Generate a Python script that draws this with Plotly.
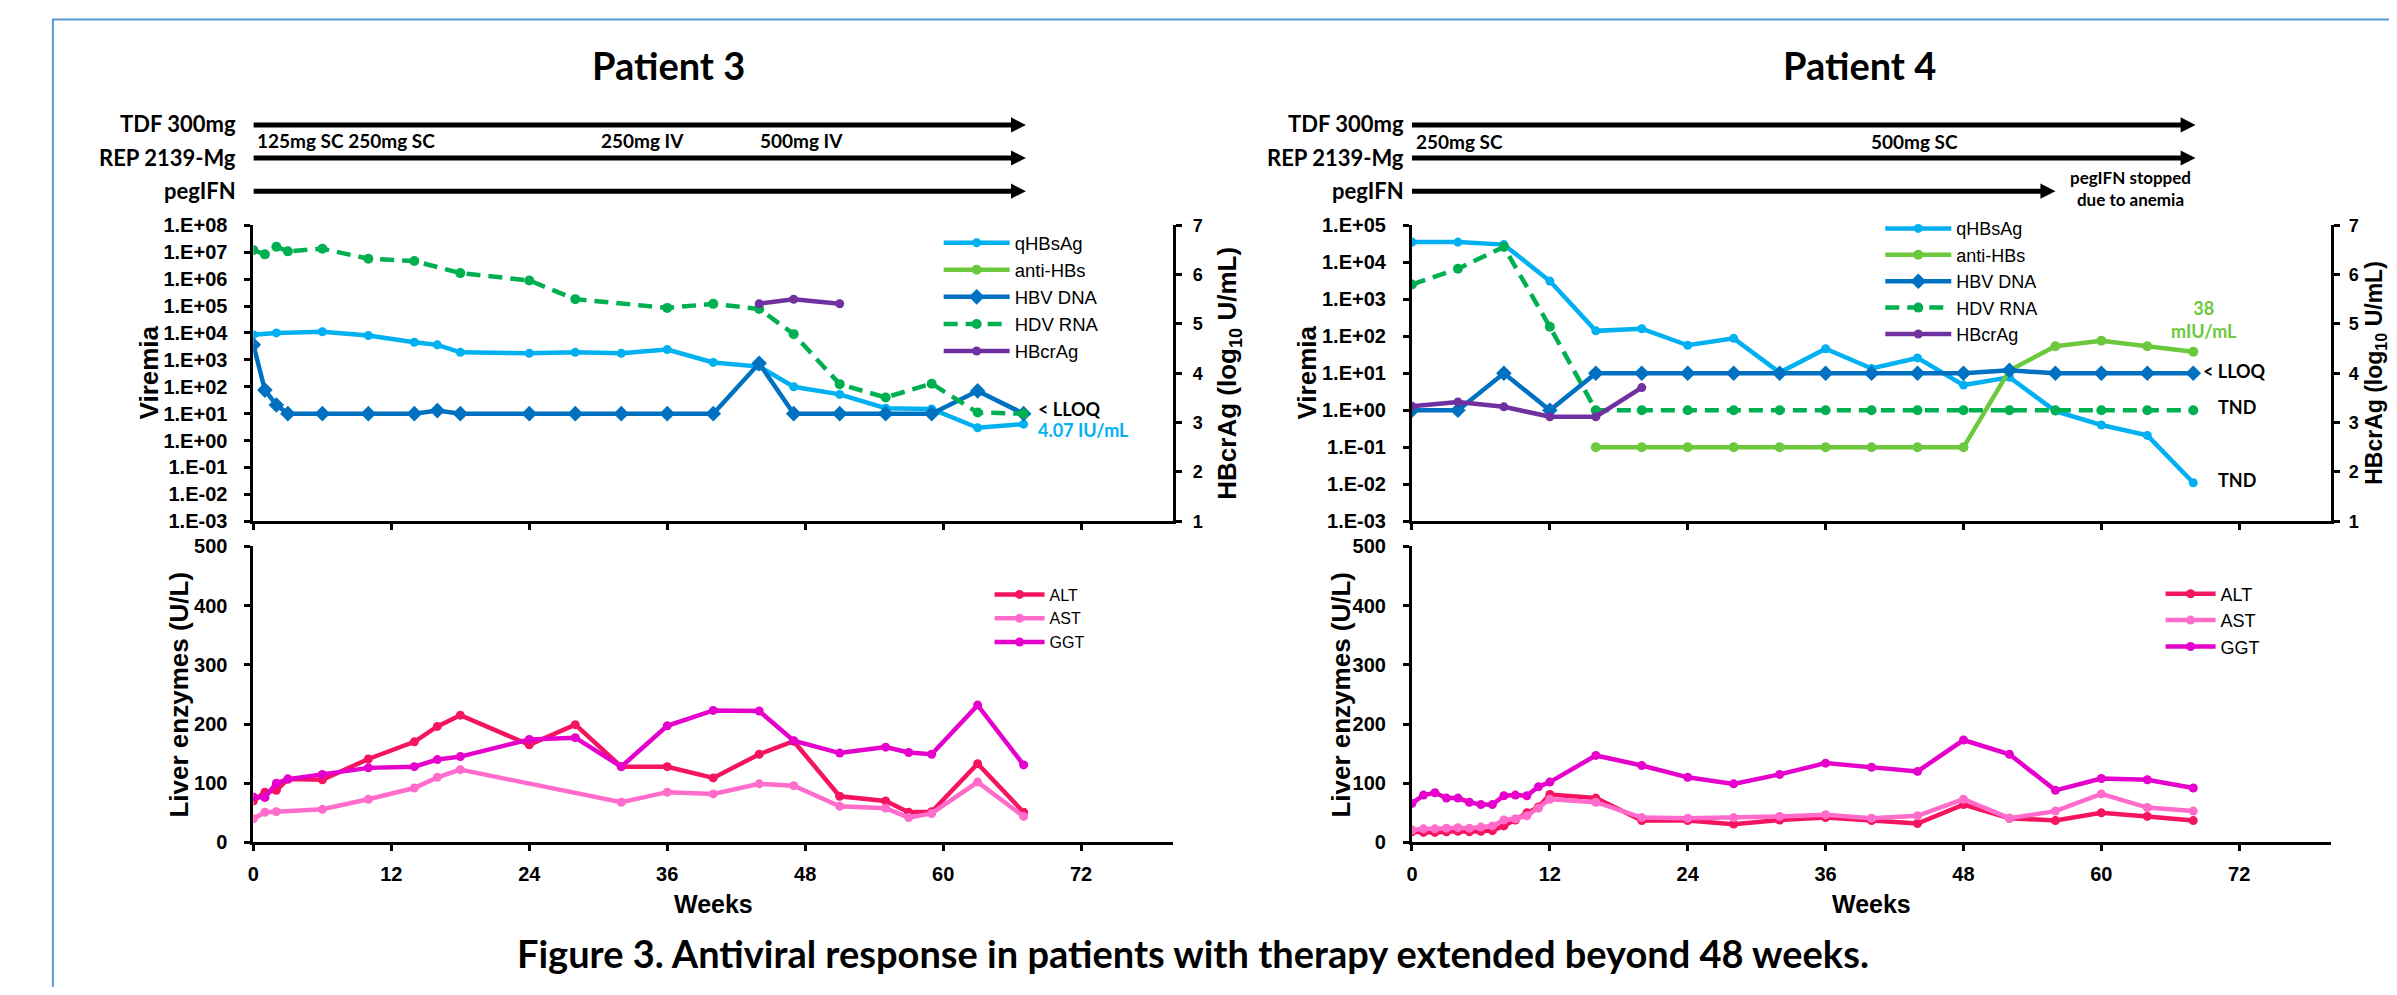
import plotly.graph_objects as go

# Figure size and mapping from reference-picture pixels to paper coordinates
# (calibrated: the page adds a small offset and a slight vertical scaling)
W, H = 2381, 979
VS = 0.974


def px(x):
    return (x - 10) / W


def py(y):
    return 1 - ((y - 12.7) / VS - 8) / H


# ---------------- data: Patient 3 ----------------
p3_qhbsag_wk = [0, 2, 6, 10, 14, 16, 18, 24, 28, 32, 36, 40, 44, 47, 51, 55, 59, 63, 67]
p3_qhbsag = [8600, 10000, 11000, 8000, 4500, 3600, 1900, 1750, 1900, 1750, 2400, 800, 560,
             100, 52, 16, 15, 3, 4.07]
p3_hbvdna_wk = [0, 1, 2, 3, 6, 10, 14, 16, 18, 24, 28, 32, 36, 40, 44, 47, 51, 55, 59, 63, 67]
p3_hbvdna = [3600, 75, 21, 10, 10, 10, 10, 13, 10, 10, 10, 10, 10, 10, 740, 10, 10, 10, 10, 70, 10]
p3_hdvrna_wk = [0, 1, 2, 3, 6, 10, 14, 18, 24, 28, 36, 40, 44, 47, 51, 55, 59, 63, 67]
p3_hdvrna = [1.2e7, 8.3e6, 1.6e7, 1.07e7, 1.35e7, 5.7e6, 4.7e6, 1.67e6, 8.9e5, 1.8e5, 8.5e4,
             1.2e5, 7.8e4, 9e3, 125, 40, 130, 11, 10]
p3_hbcrag_wk = [44, 47, 51]
p3_hbcrag = [5.41, 5.5, 5.41]

p3_liver_wk = [0, 1, 2, 3, 6, 10, 14, 16, 18, 24, 28, 32, 36, 40, 44, 47, 51, 55, 57, 59, 63, 67]
p3_alt = [70, 85, 88, 107, 106, 141, 170, 196, 215, 165, 199, 128, 128, 109, 149, 171, 78, 70,
          51, 52, 133, 51]
p3_ggt = [77, 76, 100, 107, 115, 126, 128, 140, 145, 174, 177, 128, 197, 223, 222, 172, 151, 161,
          152, 149, 232, 131]
p3_ast_wk = [0, 1, 2, 6, 10, 14, 16, 18, 32, 36, 40, 44, 47, 51, 55, 57, 59, 63, 67]
p3_ast = [40, 51, 52, 56, 73, 92, 110, 123, 68, 85, 82, 99, 96, 61, 58, 42, 49, 102, 44]

# ---------------- data: Patient 4 ----------------
p4_wk = [0, 4, 8, 12, 16, 20, 24, 28, 32, 36, 40, 44, 48, 52, 56, 60, 64, 68]
p4_qhbsag = [35000, 35000, 30000, 3100, 140, 160, 57, 88, 10.5, 46, 13.5, 26, 4.8, 7.8, 0.95,
             0.40, 0.21, 0.011]
p4_hbvdna = [1, 1, 10, 1, 10, 10, 10, 10, 10, 10, 10, 10, 10, 12, 10, 10, 10, 10]
p4_hdvrna = [2500, 6700, 26000, 180, 1, 1, 1, 1, 1, 1, 1, 1, 1, 1, 1, 1, 1, 1]
p4_antihbs_wk = [16, 20, 24, 28, 32, 36, 40, 44, 48, 52, 56, 60, 64, 68]
p4_antihbs = [0.1, 0.1, 0.1, 0.1, 0.1, 0.1, 0.1, 0.1, 0.1, 12, 54, 76, 54, 38]
p4_hbcrag_wk = [0, 4, 8, 12, 16, 20]
p4_hbcrag = [3.33, 3.42, 3.32, 3.12, 3.12, 3.71]

p4_liver_wk = [0, 1, 2, 3, 4, 5, 6, 7, 8, 9, 10, 11, 12, 16, 20, 24, 28, 32, 36, 40, 44, 48, 52,
               56, 60, 64, 68]
p4_alt = [18, 17, 17, 18, 19, 18, 19, 20, 28, 38, 50, 60, 81, 75, 37, 37, 31, 38, 42, 37, 32, 64,
          41, 37, 50, 44, 37]
p4_ast = [21, 23, 23, 24, 25, 24, 26, 28, 38, 40, 45, 58, 73, 68, 42, 41, 42, 44, 47, 41, 45, 73,
          41, 53, 82, 59, 53]
p4_ggt = [66, 80, 84, 75, 75, 68, 64, 64, 79, 80, 79, 94, 102, 147, 130, 110, 99, 115, 134, 127,
          120, 173, 149, 88, 108, 106, 92]

# treatment timelines: (label, arrow end week)
p3_treatments = [("TDF 300mg", 67.2), ("REP 2139-Mg", 67.2), ("pegIFN", 67.2)]
p4_treatments = [("TDF 300mg", 68.2), ("REP 2139-Mg", 68.2), ("pegIFN", 56)]

vir_ticks = [1e-3, 1e-2, 1e-1, 1e0, 1e1, 1e2, 1e3, 1e4, 1e5, 1e6, 1e7, 1e8]
vir_ticktext = ["1.E-03", "1.E-02", "1.E-01", "1.E+00", "1.E+01", "1.E+02", "1.E+03", "1.E+04",
                "1.E+05", "1.E+06", "1.E+07", "1.E+08"]
week_ticks = [0, 12, 24, 36, 48, 60, 72]

C_QHBS = "#00B0F0"
C_ANTI = "#6CC83C"
C_HBV = "#0070C0"
C_HDV = "#00B050"
C_CRAG = "#7030A0"
C_ALT = "#F5145F"
C_AST = "#FF6CCB"
C_GGT = "#E600CC"

LW = 4.5
fig = go.Figure()


def add(x, y, name, color, xa, ya, legend, symbol="circle", size=9, dash="solid"):
    fig.add_trace(go.Scatter(
        x=x, y=y, name=name, mode="lines+markers", xaxis=xa, yaxis=ya, legend=legend,
        line=dict(color=color, width=LW, dash=dash),
        marker=dict(color=color, size=size, symbol=symbol),
    ))


HDV_DASH = "14px,8px"
# Patient 3 viremia
add(p3_qhbsag_wk, p3_qhbsag, "qHBsAg", C_QHBS, "x", "y", "legend", size=9)
add([None], [None], "anti-HBs", C_ANTI, "x", "y", "legend", size=10)
add(p3_hbvdna_wk, p3_hbvdna, "HBV DNA", C_HBV, "x", "y", "legend", symbol="diamond", size=12)
add(p3_hdvrna_wk, p3_hdvrna, "HDV RNA", C_HDV, "x", "y", "legend", size=10, dash=HDV_DASH)
add(p3_hbcrag_wk, p3_hbcrag, "HBcrAg", C_CRAG, "x", "y2", "legend", size=9)
# Patient 3 liver
add(p3_liver_wk, p3_alt, "ALT", C_ALT, "x2", "y3", "legend2")
add(p3_ast_wk, p3_ast, "AST", C_AST, "x2", "y3", "legend2")
add(p3_liver_wk, p3_ggt, "GGT", C_GGT, "x2", "y3", "legend2")
# Patient 4 viremia
add(p4_wk, p4_qhbsag, "qHBsAg", C_QHBS, "x3", "y4", "legend3", size=9)
add(p4_antihbs_wk, p4_antihbs, "anti-HBs", C_ANTI, "x3", "y4", "legend3", size=10)
add(p4_wk, p4_hbvdna, "HBV DNA", C_HBV, "x3", "y4", "legend3", symbol="diamond", size=12)
add(p4_wk, p4_hdvrna, "HDV RNA", C_HDV, "x3", "y4", "legend3", size=10, dash=HDV_DASH)
add(p4_hbcrag_wk, p4_hbcrag, "HBcrAg", C_CRAG, "x3", "y5", "legend3", size=9)
# Patient 4 liver
add(p4_liver_wk, p4_alt, "ALT", C_ALT, "x4", "y6", "legend4")
add(p4_liver_wk, p4_ast, "AST", C_AST, "x4", "y6", "legend4")
add(p4_liver_wk, p4_ggt, "GGT", C_GGT, "x4", "y6", "legend4")

TICKFONT = dict(family="Liberation Sans, Arial", size=20, color="black", weight="bold")
AX = dict(showgrid=False, zeroline=False, showline=True, linecolor="black", linewidth=3,
          ticks="outside", ticklen=6, tickwidth=3, tickcolor="black", tickfont=TICKFONT)

D_P3 = [px(250), px(1172)]
D_P4 = [px(1411.5), px(2333)]
D_VIR = [py(521), py(226)]
D_LIV = [py(841), py(546)]

layout = dict(
    width=W, height=H, margin=dict(l=0, r=0, t=0, b=0),
    paper_bgcolor="white", plot_bgcolor="rgba(0,0,0,0)", showlegend=True,
    xaxis=dict(AX, domain=D_P3, anchor="y", range=[0, 80], tickvals=week_ticks, showticklabels=False),
    yaxis=dict(AX, domain=D_VIR, anchor="x", type="log", range=[-3, 8], tickvals=vir_ticks,
               ticktext=vir_ticktext, ticklabelstandoff=13),
    yaxis2=dict(AX, overlaying="y", side="right", anchor="x", range=[1, 7], dtick=1,
                tickfont=dict(TICKFONT, size=18), ticklabelstandoff=7),
    xaxis2=dict(AX, domain=D_P3, anchor="y3", range=[0, 80], tickvals=week_ticks, ticklabelstandoff=6),
    yaxis3=dict(AX, domain=D_LIV, anchor="x2", range=[0, 500], dtick=100, ticklabelstandoff=13),
    xaxis3=dict(AX, domain=D_P4, anchor="y4", range=[0, 80], tickvals=week_ticks, showticklabels=False),
    yaxis4=dict(AX, domain=D_VIR, anchor="x3", type="log", range=[-3, 5], tickvals=vir_ticks[:9],
                ticktext=vir_ticktext[:9], ticklabelstandoff=13),
    yaxis5=dict(AX, overlaying="y4", side="right", anchor="x3", range=[1, 7], dtick=1,
                tickfont=dict(TICKFONT, size=18), ticklabelstandoff=5),
    xaxis4=dict(AX, domain=D_P4, anchor="y6", range=[0, 80], tickvals=week_ticks, ticklabelstandoff=6),
    yaxis6=dict(AX, domain=D_LIV, anchor="x4", range=[0, 500], dtick=100, ticklabelstandoff=13),
)

LEGFONT = dict(family="Liberation Sans, Arial", size=18.5, color="black")
layout["legend"] = dict(x=px(937), y=py(225), xanchor="left", yanchor="top", font=LEGFONT,
                        itemwidth=66, bgcolor="rgba(0,0,0,0)")
layout["legend2"] = dict(x=px(988), y=py(577), xanchor="left", yanchor="top",
                         font=dict(LEGFONT, size=16), itemwidth=50, bgcolor="rgba(0,0,0,0)")
layout["legend3"] = dict(x=px(1881), y=py(211), xanchor="left", yanchor="top",
                         font=dict(LEGFONT, size=18), itemwidth=66, bgcolor="rgba(0,0,0,0)")
layout["legend4"] = dict(x=px(2162), y=py(575), xanchor="left", yanchor="top",
                         font=dict(LEGFONT, size=18), itemwidth=50, bgcolor="rgba(0,0,0,0)")
fig.update_layout(**layout)

ann = []
HF = "Lato, Open Sans, sans-serif"


def text(x, y, t, size, xanchor="center", color="black", family=HF, weight="bold", angle=0):
    ann.append(dict(x=px(x), y=py(y), xref="paper", yref="paper", text=t, showarrow=False,
                    xanchor=xanchor, yanchor="middle", textangle=angle,
                    font=dict(family=family, size=size, color=color, weight=weight)))


# titles
text(666, 66, "Patient 3", 38)
text(1860, 66, "Patient 4", 38)
text(1192, 951, "Figure 3. Antiviral response in patients with therapy extended beyond 48 weeks.", 38)

# treatment headers and arrows
ROWS_Y = [126, 159, 192]
HEAD_LEN_WK = 1.3
HEAD_HALF = 7.5 / VS / H


def timeline(xa, xr, treatments):
    for (lab, end_wk), yy in zip(treatments, ROWS_Y):
        text(xr, yy - 1, lab, 22, xanchor="right")
        yc = py(yy)
        fig.add_shape(type="line", xref=xa, yref="paper", x0=0, x1=end_wk - HEAD_LEN_WK + 0.2,
                      y0=yc, y1=yc, line=dict(color="black", width=5))
        fig.add_shape(type="path", xref=xa, yref="paper", fillcolor="black", line=dict(width=0),
                      path=f"M {end_wk},{yc} L {end_wk - HEAD_LEN_WK},{yc + HEAD_HALF} "
                           f"L {end_wk - HEAD_LEN_WK},{yc - HEAD_HALF} Z")


timeline("x", 235, p3_treatments)
timeline("x3", 1406, p4_treatments)

text(252, 142, "125mg SC 250mg SC", 19, xanchor="left")
text(596, 142, "250mg IV", 19, xanchor="left")
text(756, 142, "500mg IV", 19, xanchor="left")
text(1414, 143, "250mg SC", 19, xanchor="left")
text(1870, 143, "500mg SC", 19, xanchor="left")
text(2132, 189, "pegIFN stopped<br>due to anemia", 17)

# axis titles
AF = "Liberation Sans, Arial"
text(145, 373, "Viremia", 26, family=AF, angle=-90)
text(1306, 373, "Viremia", 26, family=AF, angle=-90)
text(175, 694, "Liver enzymes (U/L)", 26, family=AF, angle=-90)
text(1340, 694, "Liver enzymes (U/L)", 26, family=AF, angle=-90)
text(1228, 373, "HBcrAg (log<sub>10</sub> U/mL)", 26, family=AF, angle=-90)
text(2378, 373, "HBcrAg (log<sub>10</sub> U/mL)", 23, family=AF, angle=-90)
text(711, 902, "Weeks", 25, family=AF)
text(1872, 902, "Weeks", 25, family=AF)

# point labels
text(1035, 409, "&lt; LLOQ", 18, xanchor="left")
text(1035, 430, "4.07 IU/mL", 18, xanchor="left", color=C_QHBS)
text(2203, 371, "&lt; LLOQ", 18, xanchor="left")
text(2218, 407, "TND", 18, xanchor="left")
text(2218, 480, "TND", 18, xanchor="left")
text(2206, 320, "38<br>mIU/mL", 18, color=C_ANTI)

fig.update_layout(annotations=ann)

fig.add_shape(type="rect", xref="paper", yref="paper", x0=px(49), x1=1.05, y0=-0.05, y1=py(21),
              line=dict(color="#5B9BD5", width=2), fillcolor="rgba(0,0,0,0)", layer="below")

fig.write_html("out.html")
